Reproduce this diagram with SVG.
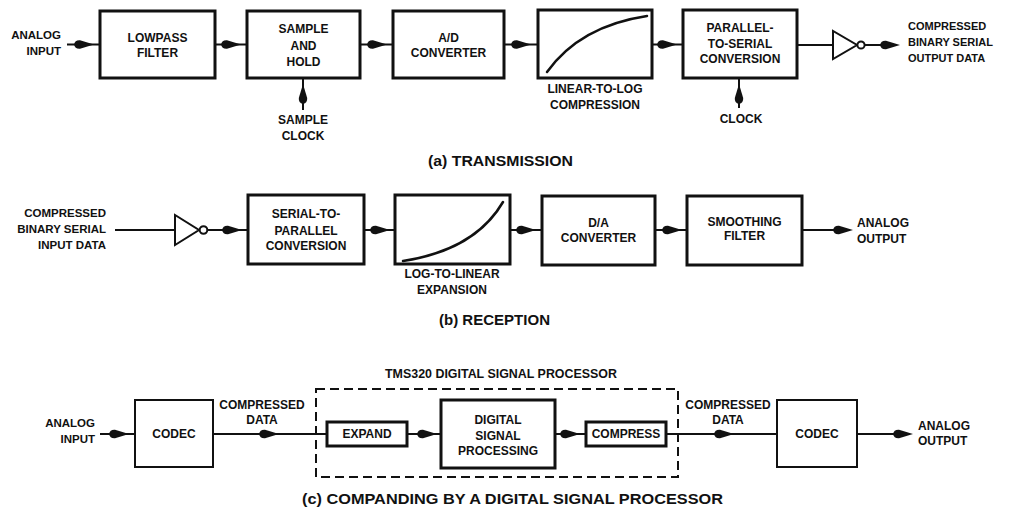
<svg xmlns="http://www.w3.org/2000/svg" xmlns:xlink="http://www.w3.org/1999/xlink" width="1010" height="508" viewBox="0 0 1010 508">
  <style>
    text { font-family: "Liberation Sans", Arial, Helvetica, sans-serif; font-weight: bold; fill: #111; }
    .lbl { font-size: 12px; text-anchor: middle; }
    .out { font-size: 11px; }
    .outr { font-size: 11.5px; text-anchor: end; }
    .cap { font-size: 15px; }
    .box { fill: #fff; stroke: #111; stroke-width: 3; }
    .thin { fill: #fff; stroke: #111; stroke-width: 2; }
    .wire { fill: none; stroke: #111; stroke-width: 2; }
    .curve { fill: none; stroke: #111; stroke-width: 2.5; stroke-linecap: round; }
    .dash { fill: none; stroke: #111; stroke-width: 2; stroke-dasharray: 9 5; }
    .head { fill: #111; }
  </style>
  <defs>
    <!-- filled arrowhead, tip at the origin, pointing right -->
    <path id="ah" class="head" d="M0,0 L-14,-4.2 Q-19,-4.6 -20,0 Q-19,4.6 -14,4.2 Z"/>
  </defs>

  <!-- ===== (a) transmission ===== -->
  <g id="a-input">
    <text class="outr" x="61" y="39">ANALOG</text>
    <text class="outr" x="61" y="55">INPUT</text>
  </g>
  <g id="a-lowpass">
    <rect class="box" x="100" y="11" width="115" height="67"/>
    <text class="lbl" x="157.5" y="42">LOWPASS</text>
    <text class="lbl" x="157.5" y="57">FILTER</text>
  </g>
  <g id="a-samplehold">
    <rect class="box" x="247" y="11" width="113" height="67"/>
    <text class="lbl" x="303.5" y="33">SAMPLE</text>
    <text class="lbl" x="303.5" y="50">AND</text>
    <text class="lbl" x="303.5" y="66">HOLD</text>
  </g>
  <g id="a-sampleclock">
    <text class="lbl" x="303" y="124">SAMPLE</text>
    <text class="lbl" x="303" y="140">CLOCK</text>
  </g>
  <g id="a-adc">
    <rect class="box" x="393" y="11" width="111" height="67"/>
    <text class="lbl" x="448.5" y="42">A/D</text>
    <text class="lbl" x="448.5" y="57">CONVERTER</text>
  </g>
  <g id="a-compress">
    <rect class="box" x="538" y="10" width="114" height="68"/>
    <path class="curve" d="M547,72 Q580,26 647,16"/>
    <text class="lbl" x="595" y="93">LINEAR-TO-LOG</text>
    <text class="lbl" x="595" y="109">COMPRESSION</text>
  </g>
  <g id="a-p2s">
    <rect class="box" x="683" y="10" width="114" height="68"/>
    <text class="lbl" x="740" y="32">PARALLEL-</text>
    <text class="lbl" x="740" y="48">TO-SERIAL</text>
    <text class="lbl" x="740" y="63">CONVERSION</text>
  </g>
  <g id="a-clock">
    <text class="lbl" x="741" y="123">CLOCK</text>
  </g>
  <g id="a-inverter">
    <polygon fill="#fff" stroke="#111" stroke-width="2" points="833,31 833,59 857,45"/>
    <circle cx="861" cy="45" r="3.6" fill="#fff" stroke="#111" stroke-width="2"/>
  </g>
  <g id="a-output">
    <text class="out" x="908" y="30">COMPRESSED</text>
    <text class="out" x="908" y="46">BINARY SERIAL</text>
    <text class="out" x="908" y="62">OUTPUT DATA</text>
  </g>
  <text id="a-caption" class="cap" x="428" y="166" textLength="145" lengthAdjust="spacingAndGlyphs">(a)  TRANSMISSION</text>

  <!-- ===== (b) reception ===== -->
  <g id="b-input">
    <text class="outr" x="106" y="217">COMPRESSED</text>
    <text class="outr" x="106" y="233">BINARY SERIAL</text>
    <text class="outr" x="106" y="249">INPUT DATA</text>
  </g>
  <g id="b-inverter">
    <polygon fill="#fff" stroke="#111" stroke-width="2" points="175,215 175,245 199,230"/>
    <circle cx="203.5" cy="230" r="3.8" fill="#fff" stroke="#111" stroke-width="2"/>
  </g>
  <g id="b-s2p">
    <rect class="box" x="248" y="195" width="116" height="69"/>
    <text class="lbl" x="306" y="218">SERIAL-TO-</text>
    <text class="lbl" x="306" y="235">PARALLEL</text>
    <text class="lbl" x="306" y="250">CONVERSION</text>
  </g>
  <g id="b-expand">
    <rect class="box" x="395" y="195" width="115" height="69"/>
    <path class="curve" d="M403,261 Q475,250 503,202"/>
    <text class="lbl" x="452" y="278">LOG-TO-LINEAR</text>
    <text class="lbl" x="452" y="294">EXPANSION</text>
  </g>
  <g id="b-dac">
    <rect class="box" x="542" y="196" width="113" height="69"/>
    <text class="lbl" x="598.5" y="227">D/A</text>
    <text class="lbl" x="598.5" y="242">CONVERTER</text>
  </g>
  <g id="b-smooth">
    <rect class="box" x="687" y="196" width="115" height="69"/>
    <text class="lbl" x="744.5" y="226">SMOOTHING</text>
    <text class="lbl" x="744.5" y="240">FILTER</text>
  </g>
  <g id="b-output">
    <text class="out" style="font-size:12px" x="857" y="227">ANALOG</text>
    <text class="out" style="font-size:12px" x="857" y="243">OUTPUT</text>
  </g>
  <text id="b-caption" class="cap" x="439" y="325" textLength="111" lengthAdjust="spacingAndGlyphs">(b)  RECEPTION</text>

  <!-- ===== (c) companding by a DSP ===== -->
  <g id="c-dsp-chip">
    <rect class="dash" x="316" y="389" width="362" height="88"/>
    <text style="font-size:12px" x="385" y="378" textLength="232" lengthAdjust="spacingAndGlyphs">TMS320 DIGITAL SIGNAL PROCESSOR</text>
  </g>
  <g id="c-input">
    <text class="outr" x="95" y="427">ANALOG</text>
    <text class="outr" x="95" y="443">INPUT</text>
  </g>
  <g id="c-codec1">
    <rect class="thin" x="135" y="400" width="78" height="67"/>
    <text class="lbl" x="174" y="438">CODEC</text>
  </g>
  <g id="c-label1">
    <text class="lbl" x="262" y="409">COMPRESSED</text>
    <text class="lbl" x="262" y="424">DATA</text>
  </g>
  <g id="c-expand">
    <rect class="box" x="327" y="422" width="80" height="24"/>
    <text class="lbl" x="367" y="438">EXPAND</text>
  </g>
  <g id="c-processing">
    <rect class="box" x="441" y="400" width="114" height="68"/>
    <text class="lbl" x="498" y="424">DIGITAL</text>
    <text class="lbl" x="498" y="440">SIGNAL</text>
    <text class="lbl" x="498" y="455">PROCESSING</text>
  </g>
  <g id="c-compress">
    <rect class="box" x="586" y="422" width="80" height="24"/>
    <text class="lbl" x="626" y="438">COMPRESS</text>
  </g>
  <g id="c-label2">
    <text class="lbl" x="728" y="409">COMPRESSED</text>
    <text class="lbl" x="728" y="424">DATA</text>
  </g>
  <g id="c-codec2">
    <rect class="thin" x="777" y="400" width="80" height="67"/>
    <text class="lbl" x="817" y="438">CODEC</text>
  </g>
  <g id="c-output">
    <text class="out" style="font-size:12px" x="918" y="430">ANALOG</text>
    <text class="out" style="font-size:12px" x="918" y="445">OUTPUT</text>
  </g>
  <text id="c-caption" class="cap" x="302" y="504" textLength="421" lengthAdjust="spacingAndGlyphs">(c)  COMPANDING BY A DIGITAL SIGNAL PROCESSOR</text>

  <!-- ===== connectors ===== -->
  <g id="connectors">
    <!-- (a) -->
    <path class="wire" d="M67,44.5 H100 M215,44.5 H247 M360,44.5 H393 M504,44.5 H538 M652,44.5 H683 M797,45 H833 M865,45 H890"/>
    <path class="wire" d="M303,110 V79 M739,108 V79"/>
    <use xlink:href="#ah" transform="translate(94,44.5)"/>
    <use xlink:href="#ah" transform="translate(241,44.5)"/>
    <use xlink:href="#ah" transform="translate(387,44.5)"/>
    <use xlink:href="#ah" transform="translate(531,44.5)"/>
    <use xlink:href="#ah" transform="translate(677,44.5)"/>
    <use xlink:href="#ah" transform="translate(900,45)"/>
    <use xlink:href="#ah" transform="translate(303,84) rotate(-90)"/>
    <use xlink:href="#ah" transform="translate(739,84) rotate(-90)"/>
    <!-- (b) -->
    <path class="wire" d="M115,230 H175 M207,230 H248 M364,230 H395 M510,230 H542 M655,230 H687 M802,230 H845"/>
    <use xlink:href="#ah" transform="translate(242,230)"/>
    <use xlink:href="#ah" transform="translate(390,230)"/>
    <use xlink:href="#ah" transform="translate(536,230)"/>
    <use xlink:href="#ah" transform="translate(682,230)"/>
    <use xlink:href="#ah" transform="translate(853,230)"/>
    <!-- (c) -->
    <path class="wire" d="M100,434 H135 M213,434 H327 M407,434 H441 M555,434 H586 M666,434 H777 M857,434 H905"/>
    <use xlink:href="#ah" transform="translate(129,434)"/>
    <use xlink:href="#ah" transform="translate(279,434)"/>
    <use xlink:href="#ah" transform="translate(437,434)"/>
    <use xlink:href="#ah" transform="translate(580,434)"/>
    <use xlink:href="#ah" transform="translate(734,434)"/>
    <use xlink:href="#ah" transform="translate(913,434)"/>
  </g>
</svg>
